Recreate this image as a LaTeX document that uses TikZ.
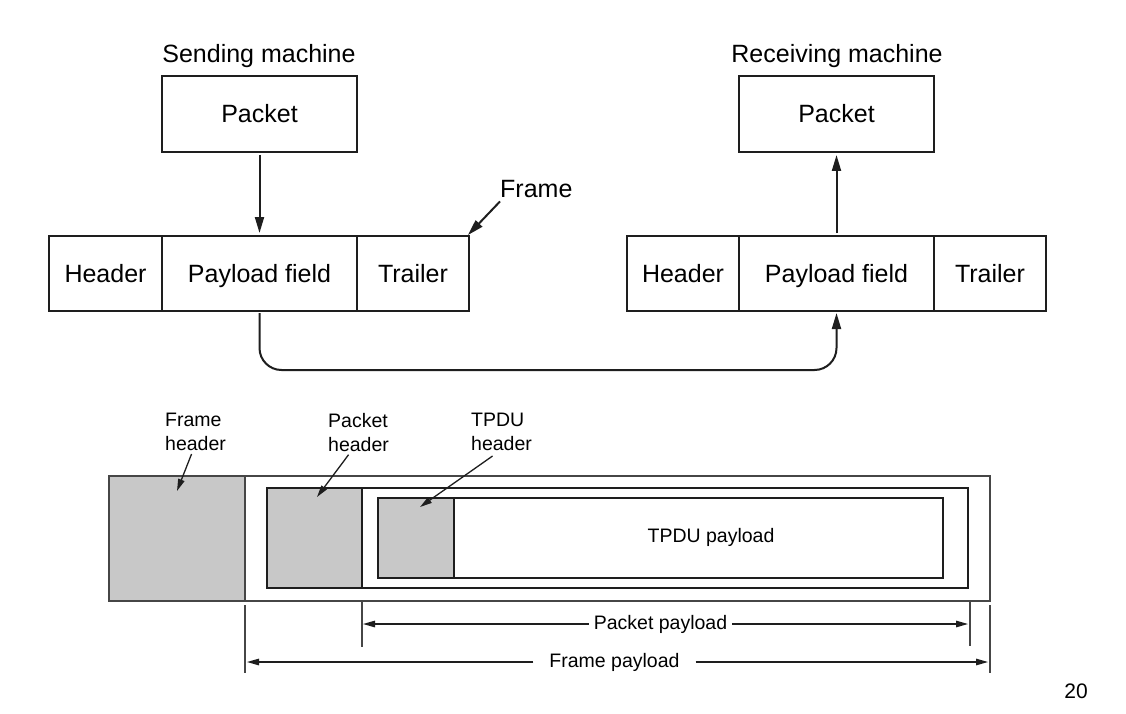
\documentclass[tikz,border=0pt]{standalone}
\usepackage{fontspec}
\setmainfont{Liberation Sans}
\usetikzlibrary{arrows.meta,calc}
\definecolor{hdrgray}{RGB}{200,200,200}
\definecolor{linecol}{RGB}{30,30,30}
\definecolor{thincol}{RGB}{70,70,70}
\begin{document}
\begin{tikzpicture}[x=1pt,y=-1pt,
  box/.style={draw=linecol, line width=1.8pt, minimum height=75pt, inner sep=0pt, outer sep=0pt,
    text height=18pt, text depth=1pt, font=\fontsize{25}{30}\selectfont},
  big/.style={font=\fontsize{25}{30}\selectfont, inner sep=0pt},
  small/.style={font=\fontsize{19.5}{24}\selectfont, inner sep=0pt},
  arr/.style={draw=linecol, line width=2pt, -{Triangle[length=16pt,width=9pt]}},
  sarr/.style={draw=linecol, line width=1.3pt, -{Triangle[length=12pt,width=6.5pt]}},
  tickline/.style={draw=thincol, line width=1.3pt},
  rectb/.style={draw=linecol, inner sep=0pt, outer sep=0pt},
  grayb/.style={draw=linecol, fill=hdrgray, inner sep=0pt, outer sep=0pt, anchor=north west}
]
\fill[white] (0,0) rectangle (1126,714);
\useasboundingbox (0,0) rectangle (1126,714);

% ---------- top: sending machine ----------
\node[big, anchor=base] (sendlbl) at (259,63) {Sending machine};
\node[box, minimum width=195pt, minimum height=76pt] (spkt) at (259.5,114) {Packet};
\node[box, minimum width=113pt] (shdr) at (105.5,273.5) {Header};
\node[box, minimum width=195pt] (spay) at (259.5,273.5) {Payload field};
\node[box, minimum width=112pt] (strl) at (413,273.5) {Trailer};
\draw[arr] ([yshift=-3pt]spkt.south) -- ([yshift=3pt]spay.north);

\node[big, anchor=base west] (framelbl) at (500,197) {Frame};
\draw[arr] ($(framelbl.south west)+(0,4)$) -- ([shift={(-1pt,1pt)}]strl.north east);

% ---------- top: receiving machine ----------
\node[big, anchor=base] (recvlbl) at (837,63) {Receiving machine};
\node[box, minimum width=195pt, minimum height=76pt] (rpkt) at (836.5,114) {Packet};
\node[box, minimum width=112pt] (rhdr) at (683,273.5) {Header};
\node[box, minimum width=195pt] (rpay) at (836.5,273.5) {Payload field};
\node[box, minimum width=112pt] (rtrl) at (990,273.5) {Trailer};
\draw[arr] ([yshift=3pt]rpay.north) -- ([yshift=-3pt]rpkt.south);

\coordinate (busy) at (0,370);
\draw[arr, rounded corners=22pt] ([yshift=-2pt]spay.south) -- (spay.south |- busy) -| ([yshift=-2pt]rpay.south);

% ---------- bottom: nested encapsulation ----------
\node[rectb, draw=thincol, line width=1.3pt, fill=white, minimum width=881pt, minimum height=125pt] (fr) at (549.5,538.5) {};
\node[grayb, draw=thincol, line width=1.3pt, minimum width=136pt, minimum height=125pt] (fhdr) at (fr.north west) {};
\node[rectb, line width=2pt, minimum width=701pt, minimum height=100pt] (pr) at (617.5,538) {};
\node[grayb, line width=1.3pt, minimum width=95pt, minimum height=100pt] (phdr) at (pr.north west) {};
\node[rectb, line width=1.6pt, minimum width=565pt, minimum height=80pt] (tr) at (660.5,538) {};
\node[grayb, line width=1.3pt, minimum width=76pt, minimum height=80pt] (thdr) at (tr.north west) {};
\node[small] (tpay) at (711,537) {TPDU payload};

\node[small, align=left, anchor=north west] (fhl) at (165,413) {Frame\\header};
\node[small, align=left, anchor=north west] (phl) at (328,413) {Packet\\header};
\node[small, align=left, anchor=north west] (thl) at (471,413) {TPDU\\header};
\coordinate (fht) at (177,491);
\coordinate (pht) at (317,497);
\coordinate (tht) at (420,507);
\draw[sarr] ([xshift=-4pt,yshift=-3pt]fhl.south) -- (fht);
\draw[sarr] ([xshift=-10pt,yshift=-3pt]phl.south) -- (pht);
\draw[sarr] ([xshift=-9pt,yshift=-5pt]thl.south) -- (tht);

% dimension ticks
\coordinate (t1a) at (245,605); \coordinate (t1b) at (245,673);
\coordinate (t2a) at (362,601); \coordinate (t2b) at (362,647);
\coordinate (t3a) at (970,601); \coordinate (t3b) at (970,646);
\coordinate (t4a) at (990,605); \coordinate (t4b) at (990,673);
\draw[tickline] (t1a) -- (t1b);
\draw[tickline] (t2a) -- (t2b);
\draw[tickline] (t3a) -- (t3b);
\draw[tickline] (t4a) -- (t4b);

\node[small, inner xsep=5pt] (ppl) at (660.5,624) {Packet payload};
\coordinate (ppL) at (363,624);
\coordinate (ppR) at (968,624);
\draw[sarr] (ppl.west) -- (ppL);
\draw[sarr] (ppl.east) -- (ppR);

\node[small, inner xsep=16pt] (fpl) at (614.5,662) {Frame payload};
\coordinate (fpL) at (247,662);
\coordinate (fpR) at (988,662);
\draw[sarr] (fpl.west) -- (fpL);
\draw[sarr] (fpl.east) -- (fpR);

\node[font=\fontsize{21}{25}\selectfont, inner sep=0pt] (pgnum) at (1076,691) {20};
\end{tikzpicture}
\end{document}
